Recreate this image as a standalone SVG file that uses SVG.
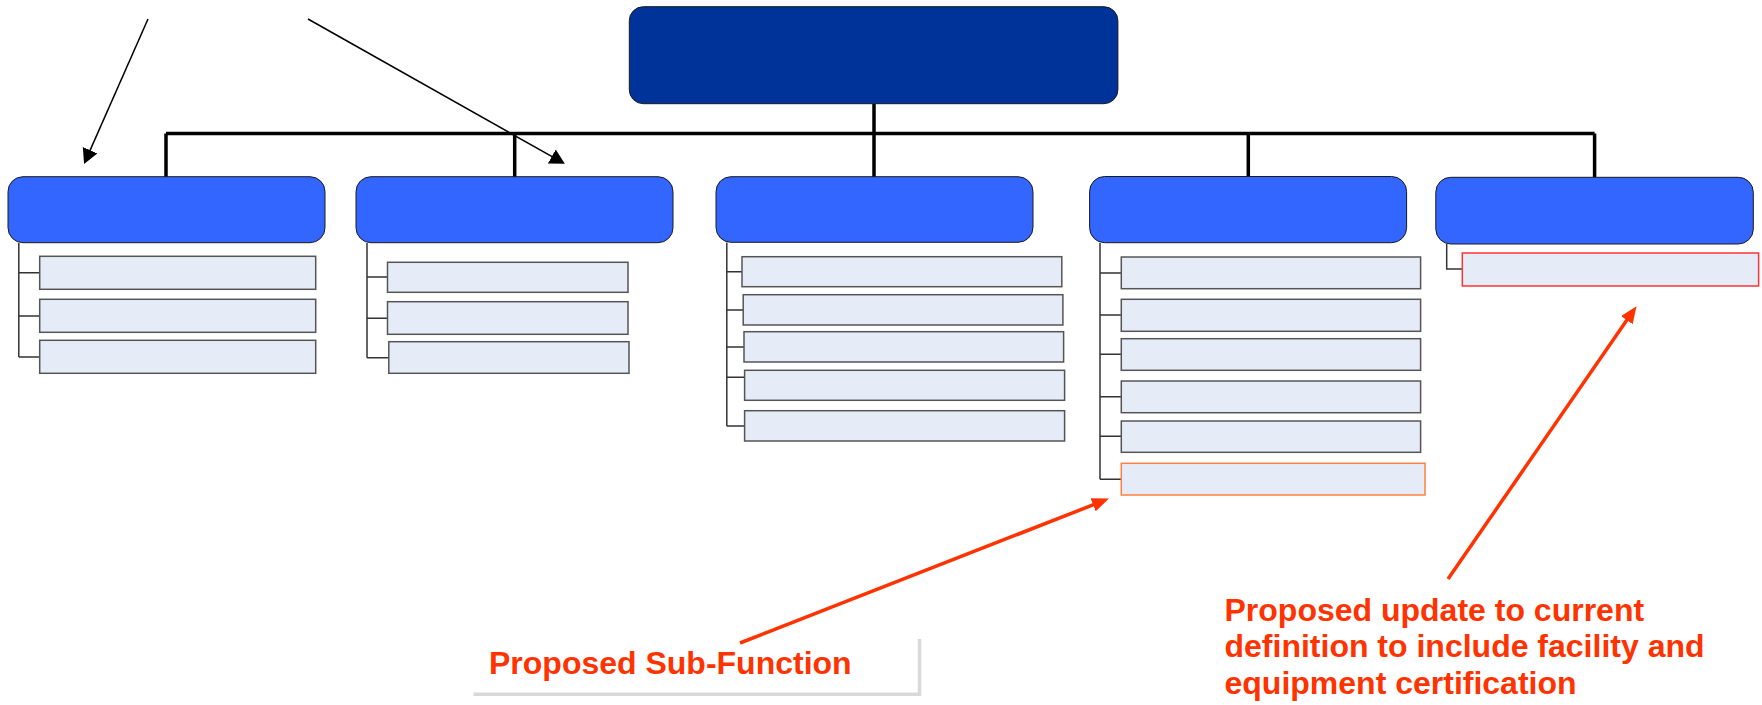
<svg xmlns="http://www.w3.org/2000/svg" width="1762" height="705" viewBox="0 0 1762 705">
  <style>
    .top { fill: #003399; stroke: #1a1a1a; stroke-width: 1; }
    .unit { fill: #3366FF; stroke: #1a1a1a; stroke-width: 1; }
    .sub { fill: #E6ECF7; stroke: #555555; stroke-width: 1.5; }
    .sub-new { fill: #E6ECF7; stroke: #FF8040; stroke-width: 1.5; }
    .sub-upd { fill: #E6ECF7; stroke: #FF3333; stroke-width: 1.5; }
    .trunk { fill: none; stroke: #000000; stroke-width: 3.5; }
    .branch { fill: none; stroke: #333333; stroke-width: 1.5; }
    .pointer { fill: none; stroke: #000000; stroke-width: 1.5; }
    .callout { fill: none; stroke: #FF3300; stroke-width: 3.5; }
    .note { font-family: "Liberation Sans", Arial, sans-serif; font-weight: bold; font-size: 32px; fill: #FF3300; }
    .frame { fill: none; stroke: #D9D9D9; stroke-width: 3.5; }
  </style>
  <defs>
    <marker id="headBlack" markerUnits="userSpaceOnUse" markerWidth="16" markerHeight="18" refX="7" refY="8" orient="auto">
      <path d="M0,0 L15,8 L0,16 z" fill="#000000"/>
    </marker>
    <marker id="headRed" markerUnits="userSpaceOnUse" markerWidth="18" markerHeight="16" refX="8" refY="7" orient="auto">
      <path d="M0,0 L17,7 L0,14 z" fill="#FF3300"/>
    </marker>
  </defs>
  <rect width="1762" height="705" fill="#ffffff"/>

  <!-- connectors -->
  <g id="connectors">
    <!-- main hierarchy -->
    <path class="trunk" d="M874,104 V177 M166,133.5 H1594.6 M166,133.5 V177 M514.7,133.5 V177 M1248.3,133.5 V177 M1594.6,133.5 V177"/>
    <!-- sub-function branches -->
    <path class="branch" d="M18.8,243 V357 M18.8,272.7 H39.7 M18.8,316 H39.7 M18.8,357 H39.7"/>
    <path class="branch" d="M367,243 V357.7 M367,277 H387.5 M367,318.3 H387.5 M367,357.7 H388.8"/>
    <path class="branch" d="M726.8,242.5 V426 M726.8,271.7 H742 M726.8,310 H743.2 M726.8,347 H744 M726.8,377.3 H744.6 M726.8,426 H744.6"/>
    <path class="branch" d="M1100,243 V479.3 M1100,273 H1121.3 M1100,315 H1121.3 M1100,354.3 H1121.3 M1100,396.7 H1121.3 M1100,436.3 H1121.3 M1100,479.3 H1121.3"/>
    <path class="branch" d="M1446.7,244 V269 H1462.3"/>
    <!-- pointers -->
    <line class="pointer" x1="148" y1="19" x2="87.3" y2="156.6" marker-end="url(#headBlack)"/>
    <line class="pointer" x1="308" y1="19" x2="557.9" y2="159.9" marker-end="url(#headBlack)"/>
    <line class="callout" x1="740" y1="643" x2="1100.6" y2="501.9" marker-end="url(#headRed)"/>
    <line class="callout" x1="1448" y1="579" x2="1631.4" y2="313.6" marker-end="url(#headRed)"/>
  </g>

  <!-- top level -->
  <g id="root">
    <rect class="top" x="629.3" y="6.7" width="488.6" height="97" rx="14" ry="14"/>
  </g>

  <!-- second level -->
  <g id="unit1">
    <rect class="unit" x="8" y="176.7" width="317" height="66" rx="15" ry="15"/>
    <rect class="sub" x="39.7" y="256.3" width="276" height="33"/>
    <rect class="sub" x="39.7" y="299.3" width="276" height="33"/>
    <rect class="sub" x="39.7" y="340.3" width="276" height="33"/>
  </g>
  <g id="unit2">
    <rect class="unit" x="356" y="176.7" width="317" height="66" rx="15" ry="15"/>
    <rect class="sub" x="387.5" y="262.3" width="240.5" height="30"/>
    <rect class="sub" x="387.5" y="301.7" width="240.5" height="32.6"/>
    <rect class="sub" x="388.8" y="341.7" width="240.2" height="31.6"/>
  </g>
  <g id="unit3">
    <rect class="unit" x="716" y="176.7" width="317" height="65.6" rx="15" ry="15"/>
    <rect class="sub" x="742" y="256.7" width="319.8" height="30"/>
    <rect class="sub" x="743.2" y="294.7" width="319.7" height="30.3"/>
    <rect class="sub" x="744" y="331.7" width="319.6" height="30.3"/>
    <rect class="sub" x="744.6" y="370.3" width="320" height="30"/>
    <rect class="sub" x="744.6" y="410.7" width="320" height="30.3"/>
  </g>
  <g id="unit4">
    <rect class="unit" x="1089.6" y="176.5" width="317" height="66.2" rx="15" ry="15"/>
    <rect class="sub" x="1121.3" y="257" width="299.3" height="31.7"/>
    <rect class="sub" x="1121.3" y="299.3" width="299.3" height="32"/>
    <rect class="sub" x="1121.3" y="338.7" width="299.3" height="31.6"/>
    <rect class="sub" x="1121.3" y="381" width="299.3" height="31.7"/>
    <rect class="sub" x="1121.3" y="421" width="299.3" height="31.3"/>
    <rect class="sub-new" x="1121.3" y="463.3" width="303.7" height="31.7"/>
  </g>
  <g id="unit5">
    <rect class="unit" x="1435.8" y="177.3" width="317.5" height="66.7" rx="15" ry="15"/>
    <rect class="sub-upd" x="1462.3" y="253" width="296.3" height="33"/>
  </g>

  <!-- annotations -->
  <g id="note-subfunction">
    <path class="frame" d="M473.5,694.3 H919.5 V639"/>
    <text class="note" x="489" y="674">Proposed Sub-Function</text>
  </g>
  <g id="note-update">
    <text class="note" x="1224.5" y="620.7">Proposed update to current</text>
    <text class="note" x="1224.5" y="657">definition to include facility and</text>
    <text class="note" x="1224.5" y="694">equipment certification</text>
  </g>
</svg>
